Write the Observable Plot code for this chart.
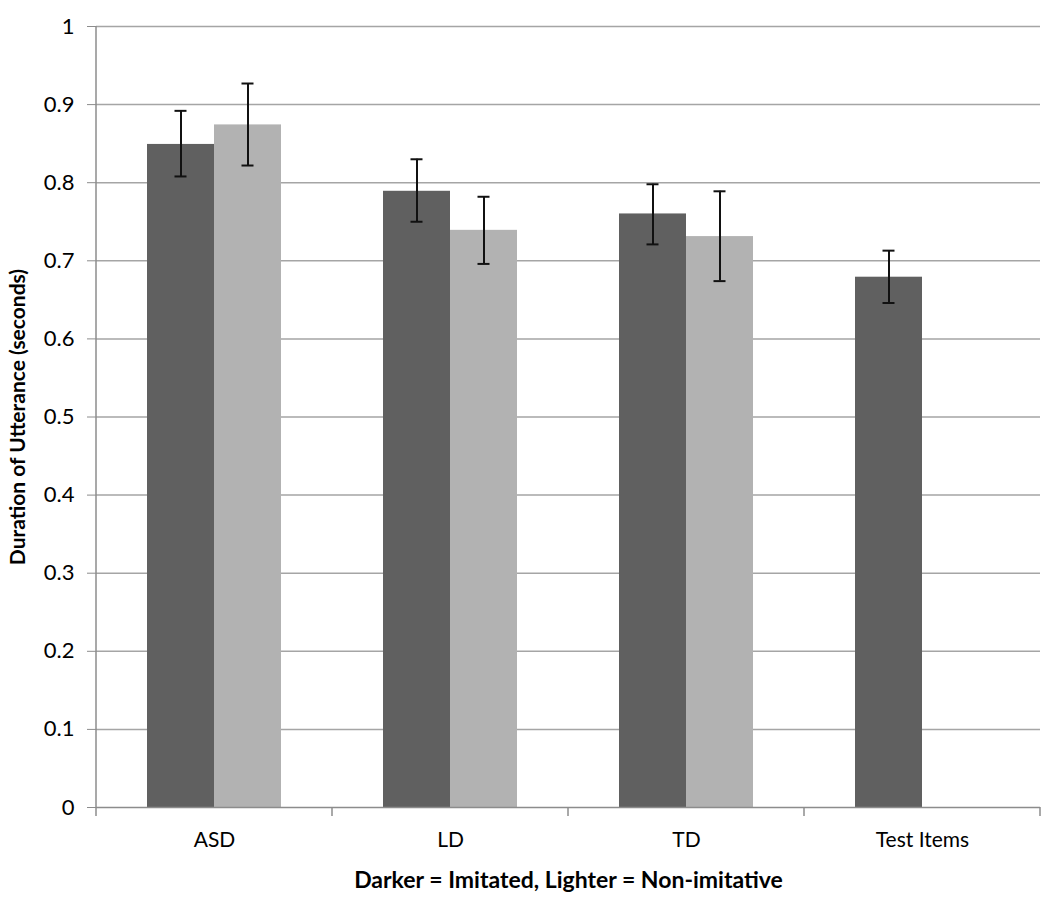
<!DOCTYPE html>
<html>
<head>
<meta charset="utf-8">
<script src="https://cdn.jsdelivr.net/npm/d3@7"></script>
<script src="https://cdn.jsdelivr.net/npm/@observablehq/plot@0.6"></script>
<style>
  html, body { margin: 0; padding: 0; background: #fff; }
  #chart svg { font-family: Lato, "Open Sans", sans-serif; }
  [aria-label="fx-axis label"] text { font-weight: bold; font-size: 23px; }
  [aria-label="y-axis label"] text { font-weight: bold; font-size: 21px; }
</style>
</head>
<body>
<div id="chart"></div>
<script>
const groups = ["ASD", "LD", "TD", "Test Items"];
const seriesNames = ["Imitated", "Non-imitative"];
const imitatedMean = [0.849, 0.789, 0.760, 0.679];
const imitatedLow  = [0.808, 0.750, 0.721, 0.646];
const imitatedHigh = [0.892, 0.830, 0.798, 0.713];
const nonImitMean  = [0.874, 0.739, 0.731, null];
const nonImitLow   = [0.822, 0.696, 0.674, null];
const nonImitHigh  = [0.927, 0.782, 0.789, null];
const yTicks = [0, 0.1, 0.2, 0.3, 0.4, 0.5, 0.6, 0.7, 0.8, 0.9, 1];
const yTickLabels = ["0", "0.1", "0.2", "0.3", "0.4", "0.5", "0.6", "0.7", "0.8", "0.9", "1"];
const xTitle = "Darker = Imitated, Lighter = Non-imitative";
const yTitle = "Duration of Utterance (seconds)";

const rows = [];
groups.forEach((g, i) => {
  rows.push({group: g, series: seriesNames[0], value: imitatedMean[i], lo: imitatedLow[i], hi: imitatedHigh[i]});
  if (nonImitMean[i] != null)
    rows.push({group: g, series: seriesNames[1], value: nonImitMean[i], lo: nonImitLow[i], hi: nonImitHigh[i]});
});

const plot = Plot.plot({
  width: 1050,
  height: 901,
  marginLeft: 96,
  marginRight: 10,
  marginTop: 26,
  marginBottom: 94,
  style: {fontSize: "20px", fontFamily: "Lato, 'Open Sans', sans-serif", color: "#000", background: "#fff"},
  fx: {domain: groups, padding: 0},
  x: {domain: seriesNames, paddingInner: 0, paddingOuter: 0.76, axis: null},
  y: {domain: [0, 1]},
  color: {domain: seriesNames, range: ["#606060", "#b2b2b2"]},
  marks: [
    Plot.gridY(yTicks.filter(d => d > 0), {stroke: "#a5a5a5", strokeOpacity: 1, strokeWidth: 1.5}),
    Plot.barY(rows, {fx: "group", x: "series", y: "value", fill: "series"}),
    Plot.ruleX(rows, {fx: "group", x: "series", y1: "lo", y2: "hi", stroke: "#111", strokeWidth: 2}),
    Plot.tickY(rows, {fx: "group", x: "series", y: "lo", stroke: "#111", strokeWidth: 2, insetLeft: 27.5, insetRight: 27.5}),
    Plot.tickY(rows, {fx: "group", x: "series", y: "hi", stroke: "#111", strokeWidth: 2, insetLeft: 27.5, insetRight: 27.5}),
    Plot.ruleY([0], {stroke: "#8c8c8c", strokeWidth: 1.5}),
    Plot.axisY({
      ticks: yTicks,
      tickFormat: (d) => yTickLabels[yTicks.indexOf(d)],
      tickSize: 9,
      tickPadding: 13,
      stroke: "#8c8c8c",
      label: yTitle,
      labelAnchor: "center",
      labelArrow: "none",
      labelOffset: 86,
      fontSize: 22
    }),
    Plot.axisFx({
      anchor: "bottom",
      tickSize: 0,
      tickPadding: 25,
      label: xTitle,
      labelAnchor: "center",
      labelArrow: "none",
      labelOffset: 80,
      fontSize: 21
    })
  ]
});

document.getElementById("chart").appendChild(plot);

// y axis line and boundary ticks on the category axis, positioned via the plot's own scales
const svg = d3.select(plot);
const fx = plot.scale("fx");
const y = plot.scale("y");
const y0 = y.apply(0), y1 = y.apply(1);
const bw = fx.bandwidth;
const edges = groups.map(g => fx.apply(g)).concat([fx.apply(groups[groups.length - 1]) + bw]);
const g = svg.append("g").attr("stroke", "#8c8c8c").attr("stroke-width", 1.5);
g.append("line").attr("x1", edges[0]).attr("x2", edges[0]).attr("y1", y1).attr("y2", y0);
edges.forEach(x => {
  g.append("line").attr("x1", x).attr("x2", x).attr("y1", y0).attr("y2", y0 + 9);
});
</script>
</body>
</html>
